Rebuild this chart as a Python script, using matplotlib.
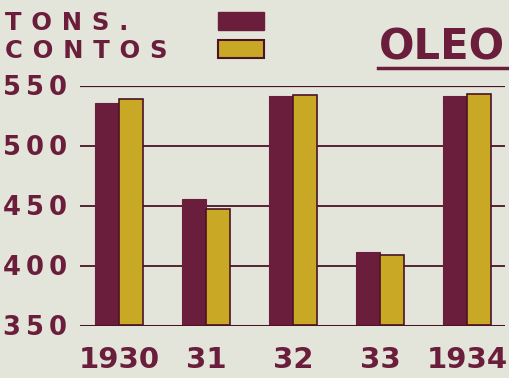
import matplotlib
matplotlib.use("Agg")
import matplotlib.pyplot as plt
from matplotlib.patches import Rectangle
import numpy as np

# Poster-style chart: olive oil, tons vs contos, 1930-1934
years = ["1930", "31", "32", "33", "1934"]
tons = [535, 455, 541, 411, 541]
contos = [539, 447, 542, 409, 543]
yticks = [350, 400, 450, 500, 550]

BG = "#e3e5db"
MAROON = "#6b1e3b"
GOLD = "#c9a826"
INK = "#4a1426"


def spaced(s, sep="\u200a"):
    # the hand lettering is set wide, so pad between characters
    return sep.join(s)


fig = plt.figure(figsize=(5.1, 3.78), dpi=100, facecolor=BG)
ax = fig.add_axes([80 / 510, 1 - 325.5 / 378, 425 / 510, 240 / 378])
ax.set_facecolor(BG)

x = np.arange(len(years))
ax.set_xlim(-0.448, 4.437)
ax.set_ylim(350, 550)

# grid lines sit behind the bars
for v in yticks[1:-1]:
    ax.axhline(v, color=INK, lw=1.3, zorder=1)
ax.axhline(550, color=INK, lw=1.6, zorder=1)
ax.axhline(350, color=INK, lw=2.2, zorder=4)

ax.bar(x - 0.27, [t - 350 for t in tons], width=0.27, bottom=350, align="edge",
       color=MAROON, edgecolor=MAROON, lw=0.8, zorder=3)
ax.bar(x, [c - 350 for c in contos], width=0.28, bottom=350, align="edge",
       color=GOLD, edgecolor=INK, lw=1.2, zorder=3)

for s in ax.spines.values():
    s.set_visible(False)
ax.set_yticks(yticks)
ax.set_yticklabels([spaced(str(v), "\u2009") for v in yticks])
ax.set_xticks(x)
ax.set_xticklabels(years)
ax.tick_params(axis="both", length=0, colors=MAROON)
for lbl in ax.get_yticklabels():
    lbl.set_fontsize(18.5)
    lbl.set_fontweight("bold")
for lbl in ax.get_xticklabels():
    lbl.set_fontsize(21)
    lbl.set_fontweight("bold")
ax.tick_params(axis="y", pad=9)
ax.tick_params(axis="x", pad=15)

# legend block, top left
fig.text(5 / 510, 1 - 30 / 378, spaced("TONS.", "\u2009\u2009"), color=MAROON,
         fontsize=17.5, fontweight="bold", va="baseline")
fig.text(5 / 510, 1 - 58 / 378, spaced("CONTOS", "\u2009\u2009"), color=MAROON,
         fontsize=17.5, fontweight="bold", va="baseline")
fig.patches.append(Rectangle((218 / 510, 1 - 30 / 378), 46 / 510, 18 / 378,
                             transform=fig.transFigure, color=MAROON))
fig.patches.append(Rectangle((218 / 510, 1 - 58 / 378), 46 / 510, 18 / 378,
                             transform=fig.transFigure, facecolor=GOLD,
                             edgecolor=INK, lw=1.5))

# title
fig.text(505 / 510, 1 - 60 / 378, "OLEO", color=MAROON, fontsize=30,
         fontweight="heavy", ha="right", va="baseline")
fig.lines.append(plt.Line2D([378 / 510, 507 / 510], [1 - 68 / 378, 1 - 68 / 378],
                            transform=fig.transFigure, color=MAROON, lw=2.5))

fig.savefig("out.png", dpi=100, facecolor=BG)
